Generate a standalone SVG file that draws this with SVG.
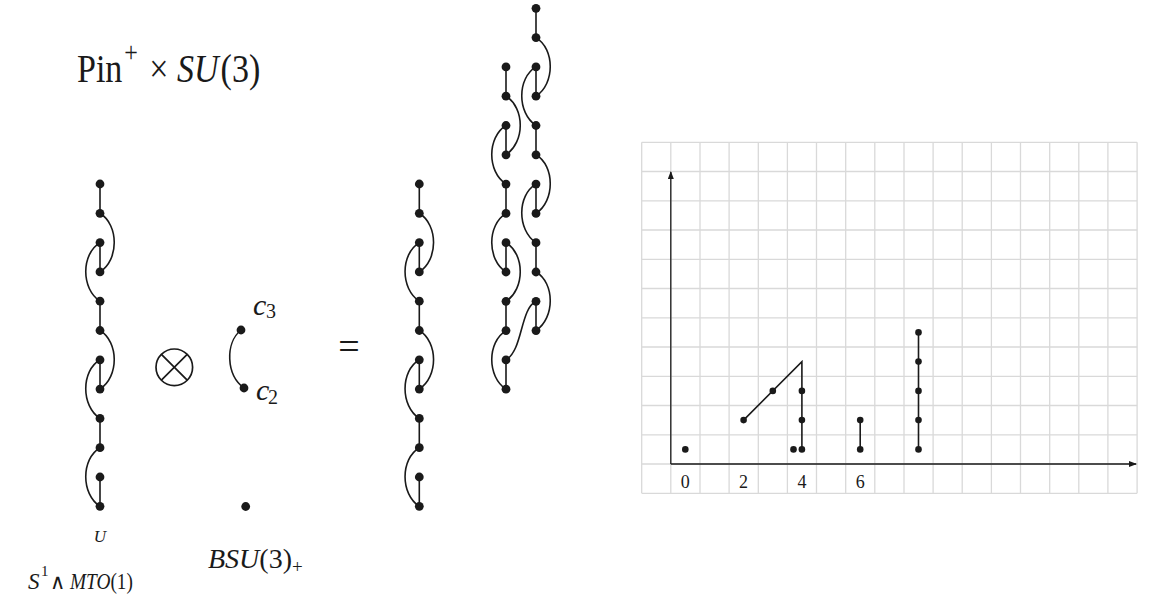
<svg xmlns="http://www.w3.org/2000/svg" width="1164" height="601" viewBox="0 0 1164 601">
<defs>
<style>
.t{font-family:"Liberation Serif","Times New Roman",serif;fill:#1a1a1a}
.i{font-style:italic}
.e{fill:none;stroke:#1a1a1a;stroke-width:1.6}
.d{fill:#1a1a1a}
.g{stroke:#d9d9d9;stroke-width:1.3}
.ax{stroke:#1a1a1a;stroke-width:1.3;fill:none}
.cl{fill:none;stroke:#1a1a1a;stroke-width:1.7}
</style>
<marker id="ar" markerWidth="8" markerHeight="6" refX="7" refY="3" orient="auto" markerUnits="userSpaceOnUse">
<path d="M0,0 L8,3 L0,6 Z" fill="#1a1a1a"/>
</marker>
</defs>
<rect width="1164" height="601" fill="#ffffff"/>

<g id="title" transform="translate(77,82) scale(0.83,1)">
<text class="t" font-size="41" x="0" y="0">Pin</text>
<text class="t" font-size="29" x="57" y="-20">+</text>
<text class="t" font-size="41" x="87" y="0">×</text>
<text class="t i" font-size="41" x="120.5" y="0">SU</text>
<text class="t" font-size="41" x="173" y="0">(3)</text>
</g>

<g id="connectors">
<!-- left column x=100 -->
<path class="e" d="M100,184 V213.3 M100,242.6 V271.9 M100,301.2 V330.5 M100,359.8 V389.1 M100,418.4 V447.7 M100,477 V506.3"/>
<path class="e" d="M100,213.3 C119,225 119,260 100,271.9 M100,242.6 C81,254 81,289 100,301.2 M100,330.5 C119,342 119,377 100,389.1 M100,359.8 C81,371 81,406 100,418.4 M100,447.7 C81,459 81,494 100,506.3"/>
<!-- c2 c3 -->
<path class="e" d="M241,330 C225,343 226,375 244,388"/>
<!-- right-hand single column x=419.3 -->
<path class="e" d="M419.3,184 V213.3 M419.3,242.6 V271.9 M419.3,301.2 V330.5 M419.3,359.8 V389.1 M419.3,418.4 V447.7 M419.3,477 V506.3"/>
<path class="e" d="M419.3,213.3 C438.3,225 438.3,260 419.3,271.9 M419.3,242.6 C400.3,254 400.3,289 419.3,301.2 M419.3,330.5 C438.3,342 438.3,377 419.3,389.1 M419.3,359.8 C400.3,371 400.3,406 419.3,418.4 M419.3,447.7 C400.3,459 400.3,494 419.3,506.3"/>
<!-- tall structure right col x=536 -->
<path class="e" d="M536,8.3 V37.6 M536,66.9 V96.2 M536,125.5 V154.8 M536,184.1 V213.4 M536,242.7 V272 M536,301.3 V330.6"/>
<path class="e" d="M536,37.6 C555,49 555,84 536,96.2 M536,66.9 C517,78 517,113 536,125.5 M536,154.8 C555,166 555,201 536,213.4 M536,184.1 C517,195 517,230 536,242.7 M536,272 C555,283 555,318 536,330.6"/>
<!-- tall structure left col x=506 -->
<path class="e" d="M506,66.9 V96.2 M506,125.5 V154.8 M506,184.1 V213.4 M506,242.7 V272 M506,301.3 V330.6 M506,359.9 V389.2"/>
<path class="e" d="M506,96.2 C525,108 525,142 506,154.8 M506,125.5 C487,137 487,172 506,184.1 M506,213.4 C487,225 487,260 506,272 M506,242.7 C525,254 525,289 506,301.3 M506,330.6 C487,342 487,377 506,389.2"/>
<path class="e" d="M536,301.3 C520,309 523,350 506,359.9"/>
</g>

<g id="col-left" class="d">
<circle cx="100" cy="184" r="4.4"/><circle cx="100" cy="213.3" r="4.4"/><circle cx="100" cy="242.6" r="4.4"/><circle cx="100" cy="271.9" r="4.4"/><circle cx="100" cy="301.2" r="4.4"/><circle cx="100" cy="330.5" r="4.4"/><circle cx="100" cy="359.8" r="4.4"/><circle cx="100" cy="389.1" r="4.4"/><circle cx="100" cy="418.4" r="4.4"/><circle cx="100" cy="447.7" r="4.4"/><circle cx="100" cy="477" r="4.4"/><circle cx="100" cy="506.3" r="4.4"/>
</g>
<g id="label-U"><text class="t i" font-size="17" x="100" y="542" text-anchor="middle">U</text></g>
<g id="label-mto">
<text class="t i" font-size="23" x="28" y="589">S</text>
<text class="t" font-size="15" x="41" y="576">1</text>
<text class="t" font-family="DejaVu Sans" font-size="21" x="50" y="589">∧</text>
<g transform="translate(70,589) scale(0.84,1)"><text class="t" font-size="23" x="0" y="0"><tspan class="i">MTO</tspan>(1)</text></g>
</g>

<g id="otimes"><circle class="cl" cx="174.3" cy="367.3" r="18.3"/><path class="cl" d="M161.4,354.4 L187.2,380.2 M187.2,354.4 L161.4,380.2"/></g>

<g id="c-pair" class="d"><circle cx="241" cy="330" r="4.4"/><circle cx="244" cy="388" r="4.4"/></g>
<g id="label-c3"><text class="t" y="315"><tspan x="253" class="i" font-size="30">c</tspan><tspan x="266" y="318" font-size="20">3</tspan></text></g>
<g id="label-c2"><text class="t" y="400"><tspan x="256" class="i" font-size="30">c</tspan><tspan x="268" y="404" font-size="20">2</tspan></text></g>
<g id="bsu-dot" class="d"><circle cx="245.7" cy="506.5" r="4.4"/></g>
<g id="label-bsu"><text class="t" font-size="28" x="208" y="568"><tspan class="i">BSU</tspan>(3)<tspan font-size="19" dy="5">+</tspan></text></g>

<g id="equals"><text class="t" font-size="38" x="349" y="359" text-anchor="middle">=</text></g>

<g id="col-right" class="d">
<circle cx="419.3" cy="184" r="4.4"/><circle cx="419.3" cy="213.3" r="4.4"/><circle cx="419.3" cy="242.6" r="4.4"/><circle cx="419.3" cy="271.9" r="4.4"/><circle cx="419.3" cy="301.2" r="4.4"/><circle cx="419.3" cy="330.5" r="4.4"/><circle cx="419.3" cy="359.8" r="4.4"/><circle cx="419.3" cy="389.1" r="4.4"/><circle cx="419.3" cy="418.4" r="4.4"/><circle cx="419.3" cy="447.7" r="4.4"/><circle cx="419.3" cy="477" r="4.4"/><circle cx="419.3" cy="506.3" r="4.4"/>
</g>

<g id="tall-right" class="d">
<circle cx="536" cy="8.3" r="4.4"/><circle cx="536" cy="37.6" r="4.4"/><circle cx="536" cy="66.9" r="4.4"/><circle cx="536" cy="96.2" r="4.4"/><circle cx="536" cy="125.5" r="4.4"/><circle cx="536" cy="154.8" r="4.4"/><circle cx="536" cy="184.1" r="4.4"/><circle cx="536" cy="213.4" r="4.4"/><circle cx="536" cy="242.7" r="4.4"/><circle cx="536" cy="272" r="4.4"/><circle cx="536" cy="301.3" r="4.4"/><circle cx="536" cy="330.6" r="4.4"/>
</g>
<g id="tall-left" class="d">
<circle cx="506" cy="66.9" r="4.4"/><circle cx="506" cy="96.2" r="4.4"/><circle cx="506" cy="125.5" r="4.4"/><circle cx="506" cy="154.8" r="4.4"/><circle cx="506" cy="184.1" r="4.4"/><circle cx="506" cy="213.4" r="4.4"/><circle cx="506" cy="242.7" r="4.4"/><circle cx="506" cy="272" r="4.4"/><circle cx="506" cy="301.3" r="4.4"/><circle cx="506" cy="330.6" r="4.4"/><circle cx="506" cy="359.9" r="4.4"/><circle cx="506" cy="389.2" r="4.4"/>
</g>

<g id="chart-grid" class="g">
<line x1="641.7" y1="142.3" x2="641.7" y2="493.3"/><line x1="670.8" y1="142.3" x2="670.8" y2="493.3"/><line x1="700" y1="142.3" x2="700" y2="493.3"/><line x1="729.1" y1="142.3" x2="729.1" y2="493.3"/><line x1="758.3" y1="142.3" x2="758.3" y2="493.3"/><line x1="787.4" y1="142.3" x2="787.4" y2="493.3"/><line x1="816.5" y1="142.3" x2="816.5" y2="493.3"/><line x1="845.7" y1="142.3" x2="845.7" y2="493.3"/><line x1="874.8" y1="142.3" x2="874.8" y2="493.3"/><line x1="904" y1="142.3" x2="904" y2="493.3"/><line x1="933.1" y1="142.3" x2="933.1" y2="493.3"/><line x1="962.2" y1="142.3" x2="962.2" y2="493.3"/><line x1="991.4" y1="142.3" x2="991.4" y2="493.3"/><line x1="1020.5" y1="142.3" x2="1020.5" y2="493.3"/><line x1="1049.7" y1="142.3" x2="1049.7" y2="493.3"/><line x1="1078.8" y1="142.3" x2="1078.8" y2="493.3"/><line x1="1107.9" y1="142.3" x2="1107.9" y2="493.3"/><line x1="1137.1" y1="142.3" x2="1137.1" y2="493.3"/>
<line x1="641.7" y1="142.3" x2="1137.1" y2="142.3"/><line x1="641.7" y1="171.5" x2="1137.1" y2="171.5"/><line x1="641.7" y1="200.8" x2="1137.1" y2="200.8"/><line x1="641.7" y1="230" x2="1137.1" y2="230"/><line x1="641.7" y1="259.3" x2="1137.1" y2="259.3"/><line x1="641.7" y1="288.5" x2="1137.1" y2="288.5"/><line x1="641.7" y1="317.8" x2="1137.1" y2="317.8"/><line x1="641.7" y1="347" x2="1137.1" y2="347"/><line x1="641.7" y1="376.3" x2="1137.1" y2="376.3"/><line x1="641.7" y1="405.5" x2="1137.1" y2="405.5"/><line x1="641.7" y1="434.8" x2="1137.1" y2="434.8"/><line x1="641.7" y1="464" x2="1137.1" y2="464"/><line x1="641.7" y1="493.3" x2="1137.1" y2="493.3"/>
</g>
<g id="chart-axes">
<line class="ax" x1="670.8" y1="464" x2="670.8" y2="172" marker-end="url(#ar)"/>
<line class="ax" x1="670.8" y1="464" x2="1136" y2="464" marker-end="url(#ar)"/>
</g>
<g id="chart-labels" class="t" font-size="18" text-anchor="middle">
<text x="685.3" y="488">0</text><text x="743.6" y="488">2</text><text x="801.9" y="488">4</text><text x="860.2" y="488">6</text>
</g>
<g id="chart-connectors">
<path class="e" d="M743.6,420.1 L801.9,361.6 L801.9,449.4 M860.2,420.1 V449.4 M918.5,332.4 V449.4"/>
</g>
<g id="chart-dots" class="d">
<circle cx="685.3" cy="449.4" r="3.3"/>
<circle cx="743.6" cy="420.1" r="3.3"/><circle cx="772.8" cy="390.9" r="3.3"/>
<circle cx="801.9" cy="390.9" r="3.3"/><circle cx="801.9" cy="420.1" r="3.3"/><circle cx="801.9" cy="449.4" r="3.3"/><circle cx="793.5" cy="449.4" r="3.3"/>
<circle cx="860.2" cy="420.1" r="3.3"/><circle cx="860.2" cy="449.4" r="3.3"/>
<circle cx="918.5" cy="332.4" r="3.3"/><circle cx="918.5" cy="361.6" r="3.3"/><circle cx="918.5" cy="390.9" r="3.3"/><circle cx="918.5" cy="420.1" r="3.3"/><circle cx="918.5" cy="449.4" r="3.3"/>
</g>
</svg>
